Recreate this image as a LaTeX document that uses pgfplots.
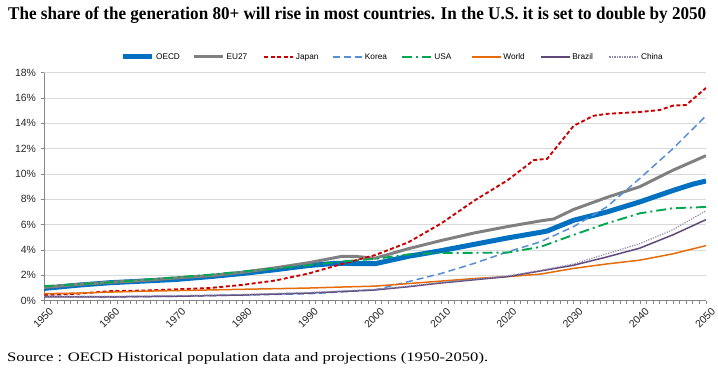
\documentclass[border=0pt]{standalone}
\usepackage{pgfplots}
\pgfplotsset{compat=1.18}
\usepackage{fontspec}
\usepackage{graphicx}
\setmainfont{Liberation Serif}
\newfontfamily\arial{Liberation Sans}
\definecolor{cOECD}{RGB}{0,112,192}
\definecolor{cEU}{RGB}{128,128,128}
\definecolor{cJP}{RGB}{204,0,0}
\definecolor{cKR}{RGB}{85,142,213}
\definecolor{cUS}{RGB}{0,166,80}
\definecolor{cWD}{RGB}{228,108,10}
\definecolor{cBR}{RGB}{96,73,122}
\definecolor{cCN}{RGB}{140,140,176}
\definecolor{gridc}{RGB}{217,217,217}
\definecolor{axc}{RGB}{134,134,134}
\begin{document}
\begin{tikzpicture}
\useasboundingbox (-44bp,-72.3bp) rectangle (674bp,300.7bp);
\begin{axis}[
  scale only axis,
  width=662bp, height=228bp,
  at={(0,0)}, anchor=south west,
  xmin=1950, xmax=2050, ymin=0, ymax=18,
  axis x line*=bottom, axis y line*=left,
  axis line style={axc, line width=0.8pt},
  xtick={1950,1960,...,2050},
  minor x tick num=9,
  ytick={0,2,...,18},
  tick align=outside,
  major tick length=3.5bp, minor tick length=3.5bp,
  tick style={axc, line width=0.6pt},
  ymajorgrids, grid style={gridc, line width=0.9pt},
  yticklabel={\pgfmathprintnumber{\tick}\%},
  /pgf/number format/assume math mode=true,
  /pgf/number format/1000 sep={},
  ticklabel style={font=\arial\fontsize{10.5}{12}\selectfont, color=black!85},
  xticklabel style={rotate=45, anchor=east, xshift=5bp, yshift=-9bp},
  yticklabel style={xshift=-1bp},
  legend columns=8,
  legend style={draw=none, fill=none, at={(axis description cs:0.536,1.069)}, anchor=center,
    font=\arial\fontsize{8.3}{10}\selectfont,
    /tikz/every even column/.append style={column sep=0bp},
    /tikz/every odd column/.append style={column sep=0bp},
    nodes={inner xsep=2bp}},
  legend image code/.code={\draw[#1] (0bp,0bp) -- (29bp,0bp);},
  legend cell align=left,
]
\addplot[cOECD, line width=5bp] coordinates {(1950,0.97)(1955,1.22)(1960,1.42)(1965,1.55)(1970,1.68)(1975,1.9)(1980,2.15)(1985,2.45)(1990,2.78)(1994,2.95)(2000,2.92)(2002,3.15)(2005,3.5)(2010,3.95)(2015,4.45)(2020,4.95)(2025,5.4)(2026,5.5)(2030,6.35)(2035,7.0)(2040,7.8)(2045,8.7)(2048,9.2)(2050,9.45)};
\addlegendentry{\makebox[34.5bp][l]{OECD}}
\addplot[cEU, line width=3bp] coordinates {(1950,1.05)(1955,1.28)(1960,1.45)(1965,1.6)(1970,1.8)(1975,1.97)(1980,2.25)(1985,2.6)(1990,3.0)(1995,3.5)(1997,3.5)(2000,3.35)(2005,4.1)(2010,4.75)(2015,5.35)(2020,5.85)(2025,6.3)(2027,6.45)(2030,7.2)(2035,8.15)(2040,9.0)(2045,10.3)(2050,11.45)};
\addlegendentry{\makebox[34.5bp][l]{EU27}}
\addplot[cJP, line width=1.9bp, dash pattern=on 4bp off 2.5bp] coordinates {(1950,0.45)(1955,0.55)(1960,0.75)(1965,0.8)(1970,0.9)(1975,1.0)(1980,1.25)(1985,1.6)(1990,2.15)(1995,2.9)(2000,3.6)(2005,4.6)(2010,6.1)(2015,7.9)(2020,9.5)(2024,11.1)(2026,11.2)(2030,13.8)(2033,14.6)(2035,14.75)(2040,14.9)(2043,15.05)(2045,15.4)(2047,15.45)(2050,16.8)};
\addlegendentry{\makebox[34.5bp][l]{Japan}}
\addplot[cKR, line width=1.5bp, dash pattern=on 7bp off 4bp] coordinates {(1950,0.35)(1960,0.3)(1970,0.35)(1980,0.45)(1990,0.55)(1995,0.7)(2000,0.85)(2005,1.5)(2010,2.15)(2015,2.95)(2020,3.85)(2025,4.65)(2030,5.85)(2035,7.4)(2040,9.65)(2045,12.0)(2050,14.6)};
\addlegendentry{\makebox[34.5bp][l]{Korea}}
\addplot[cUS, line width=1.9bp, dash pattern=on 10bp off 4bp on 2bp off 4bp] coordinates {(1950,1.15)(1955,1.3)(1960,1.45)(1965,1.65)(1970,1.85)(1975,2.05)(1980,2.3)(1985,2.55)(1990,2.8)(1995,3.1)(2000,3.3)(2005,3.65)(2010,3.78)(2015,3.78)(2020,3.8)(2025,4.25)(2030,5.2)(2035,6.1)(2040,6.9)(2045,7.3)(2050,7.4)};
\addlegendentry{\makebox[34.5bp][l]{USA}}
\addplot[cWD, line width=1.5bp] coordinates {(1950,0.55)(1955,0.6)(1960,0.68)(1965,0.75)(1970,0.8)(1975,0.85)(1980,0.9)(1985,0.95)(1990,1.0)(1995,1.08)(2000,1.15)(2005,1.35)(2010,1.55)(2015,1.75)(2020,1.9)(2025,2.1)(2030,2.55)(2035,2.9)(2040,3.2)(2045,3.7)(2050,4.35)};
\addlegendentry{\makebox[34.5bp][l]{World}}
\addplot[cBR, line width=1.5bp] coordinates {(1950,0.3)(1960,0.3)(1970,0.35)(1980,0.45)(1990,0.6)(2000,0.85)(2005,1.1)(2010,1.4)(2015,1.65)(2020,1.9)(2025,2.35)(2030,2.8)(2035,3.45)(2040,4.15)(2045,5.2)(2050,6.4)};
\addlegendentry{\makebox[34.5bp][l]{Brazil}}
\addplot[cCN, line width=1.2bp, dash pattern=on 1.2bp off 1.3bp] coordinates {(1950,0.35)(1960,0.35)(1970,0.4)(1980,0.5)(1990,0.65)(2000,0.9)(2005,1.15)(2010,1.45)(2015,1.7)(2020,1.95)(2025,2.4)(2030,2.9)(2035,3.7)(2040,4.5)(2045,5.6)(2050,7.1)};
\addlegendentry{\makebox[34.5bp][l]{China}}
\end{axis}
\node[anchor=base west, inner sep=0pt] at (-36bp,280.7bp) {\resizebox{698bp}{\height}{\fontsize{18}{20}\selectfont\bfseries The share of the generation 80+ will rise in most countries. In the U.S. it is set to double by 2050}};
\node[anchor=base west, inner sep=0pt] at (-37bp,-61bp) {\resizebox{481bp}{\height}{\fontsize{13}{15}\selectfont Source : OECD Historical population data and projections (1950-2050).}};
\end{tikzpicture}
\end{document}
